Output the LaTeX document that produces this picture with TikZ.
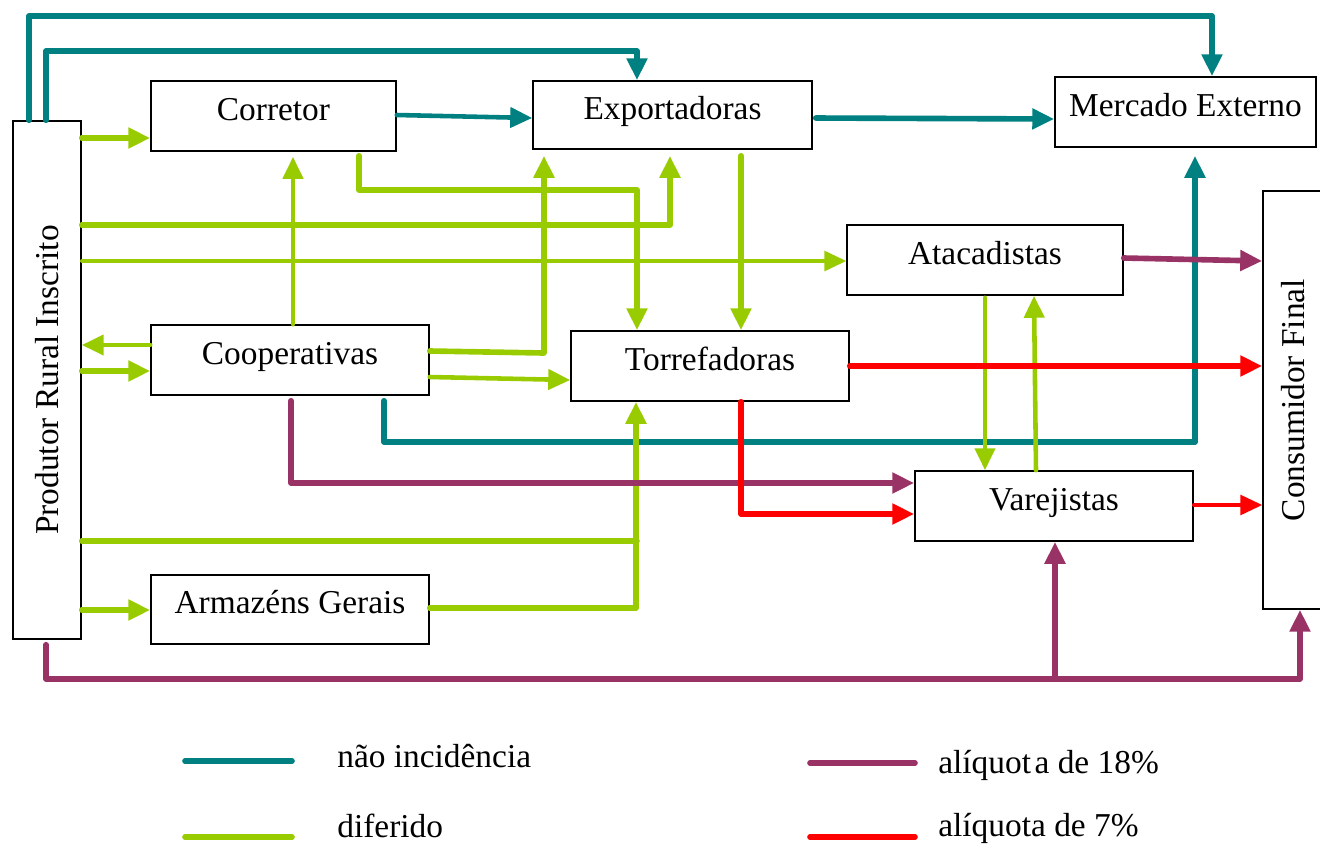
\documentclass[tikz,border=0pt]{standalone}
\usepackage{fontspec}
\setmainfont{Liberation Serif}
\usetikzlibrary{arrows.meta}
\definecolor{cteal}{HTML}{008080}
\definecolor{cgreen}{HTML}{99CC00}
\definecolor{cpurple}{HTML}{993366}
\definecolor{cred}{HTML}{FF0000}
\tikzset{
  box/.style={draw=black,line width=0.9pt,fill=white,inner sep=0pt,
    text height=0.4cm,text depth=0.24cm,font=\fontsize{19}{23}\selectfont},
  vbox/.style={draw=black,line width=0.9pt,fill=white,inner sep=0pt,font=\fontsize{19}{23}\selectfont},
  legtext/.style={inner sep=0pt,font=\fontsize{19}{23}\selectfont},
  ln/.style={line width=3.2pt,line cap=round,line join=round},
  lnm/.style={line width=2.6pt,line cap=round,line join=round},
  lnt/.style={line width=2pt,line cap=round,line join=round},
  arr/.style={-{Triangle[length=12.5pt,width=11.3pt]}},
}
\begin{document}
\begin{tikzpicture}[x=0.02cm,y=-0.02cm]
\useasboundingbox (0,0) rectangle (1320,843);

% nodes
\node[vbox,minimum width=1.36cm,minimum height=10.36cm] (prod) at (47,380) {\rotatebox{90}{Produtor Rural Inscrito}};
\node[box,minimum width=4.9cm,minimum height=1.4cm] (cor) at (273.5,116) {Corretor};
\node[box,minimum width=5.58cm,minimum height=1.36cm] (exp) at (672.5,115) {Exportadoras};
\node[box,minimum width=5.22cm,minimum height=1.4cm] (mer) at (1185.5,112) {Mercado Externo};
\node[box,minimum width=5.52cm,minimum height=1.4cm] (ata) at (985,260) {Atacadistas};
\node[box,minimum width=5.56cm,minimum height=1.4cm] (coo) at (290,360) {Cooperativas};
\node[box,minimum width=5.56cm,minimum height=1.4cm] (tor) at (710,366) {Torrefadoras};
\node[box,minimum width=5.56cm,minimum height=1.4cm] (var) at (1054,506) {Varejistas};
\node[box,minimum width=5.56cm,minimum height=1.38cm] (arm) at (290,609.5) {Armazéns Gerais};
\node[vbox,minimum width=1.2cm,minimum height=8.36cm] (con) at (1293,400) {\rotatebox{90}{Consumidor Final}};

% teal: nao incidencia
\draw[ln,cteal,arr] (prod.north -| 29,0) -- (29,16) -- (1212,16) -- (mer.north -| 1212,0);
\draw[ln,cteal,arr] (prod.north -| 46,0) -- (46,51) -- (637,51) -- (exp.north -| 637,0);
\draw[lnm,cteal,arr] (cor.east |- 0,115) -- (exp.west |- 0,118);
\draw[ln,cteal,arr,shorten <=3*0.02cm] (exp.east |- 0,118) -- (mer.west |- 0,119);
\draw[ln,cteal,arr,shorten <=5*0.02cm,shorten >=8*0.02cm] (coo.south -| 384,0) -- (384,442) -- (1195,442) -- (mer.south -| 1195,0);

% green: diferido
\draw[ln,cgreen,arr] (prod.east |- 0,138) -- (cor.west |- 0,138);
\draw[lnm,cgreen,arr,shorten >=5*0.02cm] (coo.north -| 293,0) -- (cor.south -| 293,0);
\draw[ln,cgreen,arr,shorten <=4*0.02cm] (cor.south -| 359,0) -- (359,190) -- (637,190) -- (tor.north -| 637,0);
\draw[ln,cgreen,arr,shorten >=6*0.02cm] (prod.east |- 0,225) -- (670,225) -- (exp.south -| 670,0);
\draw[lnt,cgreen,arr] (prod.east |- 0,261) -- (ata.west |- 0,261);
\draw[ln,cgreen,arr,shorten >=6*0.02cm] (coo.east |- 0,351) -- (544,353) -- (exp.south -| 544,0);
\draw[lnm,cgreen,arr] (coo.east |- 0,377) -- (tor.west |- 0,380);
\draw[lnm,cgreen,arr] (coo.west |- 0,345) -- (prod.east |- 0,345);
\draw[ln,cgreen,arr] (prod.east |- 0,371) -- (coo.west |- 0,371);
\draw[ln,cgreen,arr,shorten <=6*0.02cm] (exp.south -| 741,0) -- (tor.north -| 741,0);
\draw[ln,cgreen] (prod.east |- 0,541) -- (637,541);
\draw[ln,cgreen,arr] (arm.east |- 0,608) -- (636,608) -- (tor.south -| 636,0);
\draw[ln,cgreen,arr] (prod.east |- 0,610) -- (arm.west |- 0,610);
\draw[lnm,cgreen,arr,shorten <=2*0.02cm] (ata.south -| 985,0) -- (var.north -| 985,0);
\draw[lnm,cgreen,arr] (var.north -| 1036,0) -- (ata.south -| 1034,0);

% purple: aliquota 18%
\draw[ln,cpurple,arr] (ata.east |- 0,258) -- (con.west |- 0,261);
\draw[ln,cpurple,arr,shorten <=5*0.02cm] (coo.south -| 291,0) -- (291,483) -- (var.west |- 0,483);
\coordinate (jn) at (1055,679);
\draw[ln,cpurple,arr,shorten <=5*0.02cm] (prod.south -| 46,0) -- (46,679) -- (1300,679) -- (con.south -| 1300,0);
\draw[ln,cpurple,arr] (jn) -- (var.south -| jn);

% red: aliquota 7%
\draw[ln,cred,arr] (tor.east |- 0,366) -- (con.west |- 0,366);
\draw[ln,cred,arr] (tor.south -| 741,0) -- (741,514) -- (var.west |- 0,514);
\draw[lnt,cred,arr] (var.east |- 0,505) -- (con.west |- 0,505);

% legend
\node[legtext,anchor=base west] (l1) at (337,767) {não incidência};
\node[legtext,anchor=base west] (l2) at (337,837) {diferido};
\node[legtext,anchor=base west] (l3) at (938,773) {alíquot\kern2pt a de 18\%};
\node[legtext,anchor=base west] (l4) at (938,836) {alíquota de 7\%};
\draw[ln,cteal] (185,761) -- (292,761);
\draw[ln,cgreen] (185,837) -- (292,837);
\draw[ln,cpurple] (810,763) -- (915,763);
\draw[ln,cred] (810,837) -- (915,837);
\end{tikzpicture}
\end{document}
